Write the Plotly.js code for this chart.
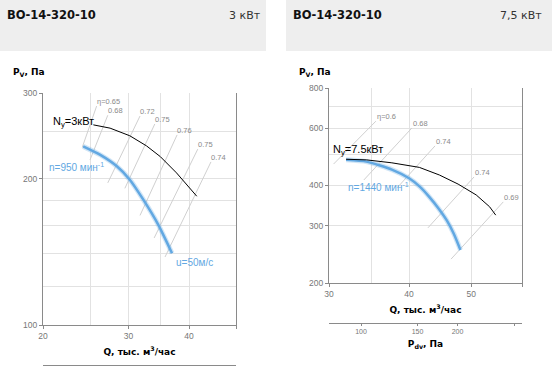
<!DOCTYPE html>
<html>
<head>
<meta charset="utf-8">
<script src="https://cdn.plot.ly/plotly-3.0.1.min.js"></script>
<style>html,body{margin:0;padding:0;background:#fff;}#chart{width:552px;height:366px;}</style>
</head>
<body>
<div id="chart"></div>
<script>
// ---------- DATA: left panel (3 kW) ----------
const leftTitle = 'ВО-14-320-10';
const leftPower = '3 кВт';
const leftPowerQ = [25.4, 27.5, 30.2, 32.7, 34.9, 37.7, 41.5];
const leftPowerP = [258, 254, 245, 233.5, 222, 205.5, 184];
const leftFanQ = [24.2, 26.2, 28.4, 30.2, 32.2, 34.6, 36.9];
const leftFanP = [233, 224, 212, 199, 181, 160.5, 140.5];
const leftEtaLabels = ['η=0.65', '0.68', '0.72', '0.75', '0.76', '0.75', '0.74'];
const leftEtaTopQ = [25.8, 27.2, 31.7, 34.0, 37.8, 41.7, 44.4];
const leftEtaTopP = [282, 270, 269, 259, 246, 230, 216.5];
const leftEtaBotQ = [24.1, 25.0, 27.2, 29.5, 31.7, 33.9, 35.7];
const leftEtaBotP = [232, 218.5, 196, 191, 168, 151, 138];
const leftXTicks = [20, 30, 40, 50];
const leftXTickText = ['20', '30', '40', ''];
const leftXMinor = [25, 35];
const leftYTicks = [100, 200, 300];
const leftYMinor = [120, 140, 160, 180, 250];

// ---------- DATA: right panel (7.5 kW) ----------
const rightTitle = 'ВО-14-320-10';
const rightPower = '7,5 кВт';
const rightPowerQ = [31.9, 34.3, 37.6, 41.5, 44.6, 47.7, 50.9, 53.4, 54.6];
const rightPowerP = [482, 480, 470, 455, 431, 404, 374, 344, 324];
const rightFanQ = [31.9, 34.3, 37.6, 40.0, 41.6, 43.0, 44.4, 45.8, 47.0, 48.1];
const rightFanP = [480, 474, 448, 421, 396, 369, 341, 312, 283, 253];
const rightEtaLabels = ['η=0.6', '0.68', '0.74', '0.74', '0.69'];
const rightEtaTopQ = [35.5, 40.4, 43.9, 50.5, 56.1];
const rightEtaTopP = [632, 602, 530, 425, 356];
const rightEtaBotQ = [30.5, 34.0, 38.3, 42.8, 46.5];
const rightEtaBotP = [466, 416, 393, 296, 237];
const rightXTicks = [30, 40, 50, 60];
const rightXTickText = ['30', '40', '50', ''];
const rightXMinor = [35];
const rightYTicks = [200, 300, 400, 600, 800];
const rightYMinor = [500, 700];
const rightPdvTicks = [100, 150, 200, 300];
const rightPdvTickText = ['100', '150', '200', ''];

// ---------- styles ----------
const L = Math.log10;
const W = 552, H = 366;
const gridC = '#e2e2e2', axisC = '#8a8a8a', tickFontC = '#777';
const blue = '#62a8e2';
const etaC = '#d0d0d0';
const txtFont = 'Liberation Sans, Arial, sans-serif';
const boldFont = 'DejaVu Sans, Verdana, sans-serif';

const traces = [];
function addPanel(xa, ya, etaTopQ, etaTopP, etaBotQ, etaBotP, fanQ, fanP, powQ, powP) {
  for (let i = 0; i < etaTopQ.length; i++) {
    traces.push({x: [etaBotQ[i], etaTopQ[i]], y: [etaBotP[i], etaTopP[i]], mode: 'lines',
      line: {color: etaC, width: 1}, xaxis: xa, yaxis: ya, hoverinfo: 'skip'});
  }
  traces.push({x: fanQ, y: fanP, mode: 'lines', line: {color: blue, width: 5, shape: 'spline', smoothing: 0.6},
    opacity: 0.3, xaxis: xa, yaxis: ya, hoverinfo: 'skip'});
  traces.push({x: fanQ, y: fanP, mode: 'lines', line: {color: blue, width: 2.5, shape: 'spline', smoothing: 0.6},
    xaxis: xa, yaxis: ya});
  traces.push({x: powQ, y: powP, mode: 'lines', line: {color: '#000', width: 1},
    xaxis: xa, yaxis: ya});
}
addPanel('x', 'y', leftEtaTopQ, leftEtaTopP, leftEtaBotQ, leftEtaBotP, leftFanQ, leftFanP, leftPowerQ, leftPowerP);
addPanel('x2', 'y2', rightEtaTopQ, rightEtaTopP, rightEtaBotQ, rightEtaBotP, rightFanQ, rightFanP, rightPowerQ, rightPowerP);
// secondary dynamic-pressure axes
traces.push({x: [], y: [], xaxis: 'x3', yaxis: 'y', mode: 'lines', hoverinfo: 'skip'});
traces.push({x: [], y: [], xaxis: 'x4', yaxis: 'y2', mode: 'lines', hoverinfo: 'skip'});

const annotations = [];
function etaAnn(labels, topQ, topP, xr, yr, xs, ys) {
  for (let i = 0; i < labels.length; i++) {
    annotations.push({x: L(topQ[i]), y: L(topP[i]), xref: xr, yref: yr, text: labels[i],
      showarrow: false, xanchor: 'left', yanchor: 'bottom', xshift: xs, yshift: ys,
      font: {family: txtFont, size: 7.5, color: '#8a8a8a'}});
  }
}
etaAnn(leftEtaLabels, leftEtaTopQ, leftEtaTopP, 'x', 'y', -2, -2);
etaAnn(rightEtaLabels, rightEtaTopQ, rightEtaTopP, 'x2', 'y2', -1, -2);

function pap(text, px, py, xanchor, font) {
  annotations.push({xref: 'paper', yref: 'paper', x: px / W, y: 1 - py / H, text: text,
    showarrow: false, xanchor: xanchor, yanchor: 'middle', font: font});
}
// headers
pap('<b>' + leftTitle + '</b>', 5, 15, 'left', {family: boldFont, size: 11.5, color: '#111'});
pap(leftPower, 263, 15, 'right', {family: boldFont, size: 11, color: '#333'});
pap('<b>' + rightTitle + '</b>', 291, 15, 'left', {family: boldFont, size: 11.5, color: '#111'});
pap(rightPower, 544, 15, 'right', {family: boldFont, size: 11, color: '#333'});
// y titles
pap('<b>P<sub>V</sub>, Па</b>', 11, 72, 'left', {family: boldFont, size: 9, color: '#000'});
pap('<b>P<sub>V</sub>, Па</b>', 297, 72, 'left', {family: boldFont, size: 9, color: '#000'});

// curve labels
annotations.push({x: L(leftPowerQ[0]), y: L(leftPowerP[0]), xref: 'x', yref: 'y', text: 'N<sub>у</sub>=3кВт',
  showarrow: false, xanchor: 'right', yanchor: 'middle', xshift: 3, yshift: 3,
  font: {family: txtFont, size: 11, color: '#000'}});
annotations.push({x: L(leftFanQ[0]), y: L(leftFanP[0]), xref: 'x', yref: 'y', text: 'n=950 мин<sup>-1</sup>',
  showarrow: false, xanchor: 'left', yanchor: 'middle', xshift: -36, yshift: -21,
  font: {family: txtFont, size: 10, color: blue}});
annotations.push({x: L(leftFanQ[leftFanQ.length - 1]), y: L(leftFanP[leftFanP.length - 1]), xref: 'x', yref: 'y', text: 'u=50м/с',
  showarrow: false, xanchor: 'left', yanchor: 'middle', xshift: 2, yshift: -9,
  font: {family: txtFont, size: 10, color: blue}});
annotations.push({x: L(rightPowerQ[0]), y: L(rightPowerP[0]), xref: 'x2', yref: 'y2', text: 'N<sub>у</sub>=7.5кВт',
  showarrow: false, xanchor: 'left', yanchor: 'bottom', xshift: -15, yshift: 0,
  font: {family: txtFont, size: 11, color: '#000'}});
annotations.push({x: L(rightFanQ[0]), y: L(rightFanP[0]), xref: 'x2', yref: 'y2', text: 'n=1440 мин<sup>-1</sup>',
  showarrow: false, xanchor: 'left', yanchor: 'middle', xshift: 0, yshift: -27,
  font: {family: txtFont, size: 10, color: blue}});

const tickFont = {family: txtFont, size: 8.5, color: tickFontC};
const titleFont = {family: boldFont, size: 9, color: '#000'};
function xAx(domain, r, tv, tt, minor, yanchor, title) {
  return {type: 'log', domain: domain, range: [L(r[0]), L(r[1])], tickmode: 'array', tickvals: tv, ticktext: tt,
    ticks: 'outside', ticklen: 3, tickcolor: axisC, showline: true, linecolor: axisC, linewidth: 1,
    showgrid: true, gridcolor: gridC, gridwidth: 1, zeroline: false, anchor: yanchor, tickfont: tickFont,
    minor: {tickmode: 'array', tickvals: minor, showgrid: true, gridcolor: gridC, ticks: ''},
    title: {text: '<b>' + title + '</b>', font: titleFont, standoff: 8}, fixedrange: true};
}
function yAx(domain, r, tv, minor, xanchor) {
  return {type: 'log', domain: domain, range: [L(r[0]), L(r[1])], tickmode: 'array', tickvals: tv,
    ticktext: tv.map(String), ticks: 'outside', ticklen: 3, tickcolor: axisC, showline: true, mirror: true,
    linecolor: axisC, linewidth: 1, showgrid: true, gridcolor: gridC, zeroline: false, anchor: xanchor,
    tickfont: tickFont, minor: {tickmode: 'array', tickvals: minor, showgrid: true, gridcolor: gridC, ticks: ''},
    fixedrange: true};
}

const layout = {
  width: W, height: H, margin: {l: 0, r: 0, t: 0, b: 0},
  paper_bgcolor: '#fff', plot_bgcolor: 'rgba(0,0,0,0)', showlegend: false,
  font: {family: txtFont, size: 9, color: tickFontC},
  xaxis: xAx([43 / W, 236 / W], [20, 50], leftXTicks, leftXTickText, leftXMinor, 'y', 'Q, тыс. м<sup>3</sup>/час'),
  yaxis: yAx([1 - 325 / H, 1 - 93 / H], [100, 300], leftYTicks, leftYMinor, 'x'),
  xaxis2: xAx([329 / W, 522 / W], [30, 60], rightXTicks, rightXTickText, rightXMinor, 'y2', 'Q, тыс. м<sup>3</sup>/час'),
  yaxis2: yAx([1 - 283 / H, 1 - 88 / H], [200, 800], rightYTicks, rightYMinor, 'x2'),
  xaxis3: {type: 'log', overlaying: 'x', anchor: 'free', position: 1 - 365 / H, side: 'bottom',
    range: [1.9, 2.7], showline: true, linecolor: axisC, showgrid: false, zeroline: false,
    showticklabels: false, ticks: '', fixedrange: true},
  xaxis4: {type: 'log', overlaying: 'x2', anchor: 'free', position: 1 - 323 / H, side: 'bottom',
    range: [1.9, 2.502], tickmode: 'array', tickvals: rightPdvTicks, ticktext: rightPdvTickText,
    showline: true, linecolor: axisC, showgrid: false, zeroline: false, ticks: 'outside', ticklen: 2,
    tickcolor: axisC, tickfont: {family: txtFont, size: 7, color: tickFontC},
    title: {text: '<b>P<sub>dv</sub>, Па</b>', font: titleFont, standoff: 6}, fixedrange: true},
  shapes: [
    {type: 'rect', xref: 'paper', yref: 'paper', x0: 0, x1: 266 / W, y0: 1 - 51 / H, y1: 1,
      fillcolor: '#eeeeee', line: {width: 0}, layer: 'below'},
    {type: 'rect', xref: 'paper', yref: 'paper', x0: 286 / W, x1: 1, y0: 1 - 51 / H, y1: 1,
      fillcolor: '#eeeeee', line: {width: 0}, layer: 'below'}
  ],
  annotations: annotations
};

Plotly.newPlot('chart', traces, layout, {staticPlot: true, displayModeBar: false});
</script>
</body>
</html>
